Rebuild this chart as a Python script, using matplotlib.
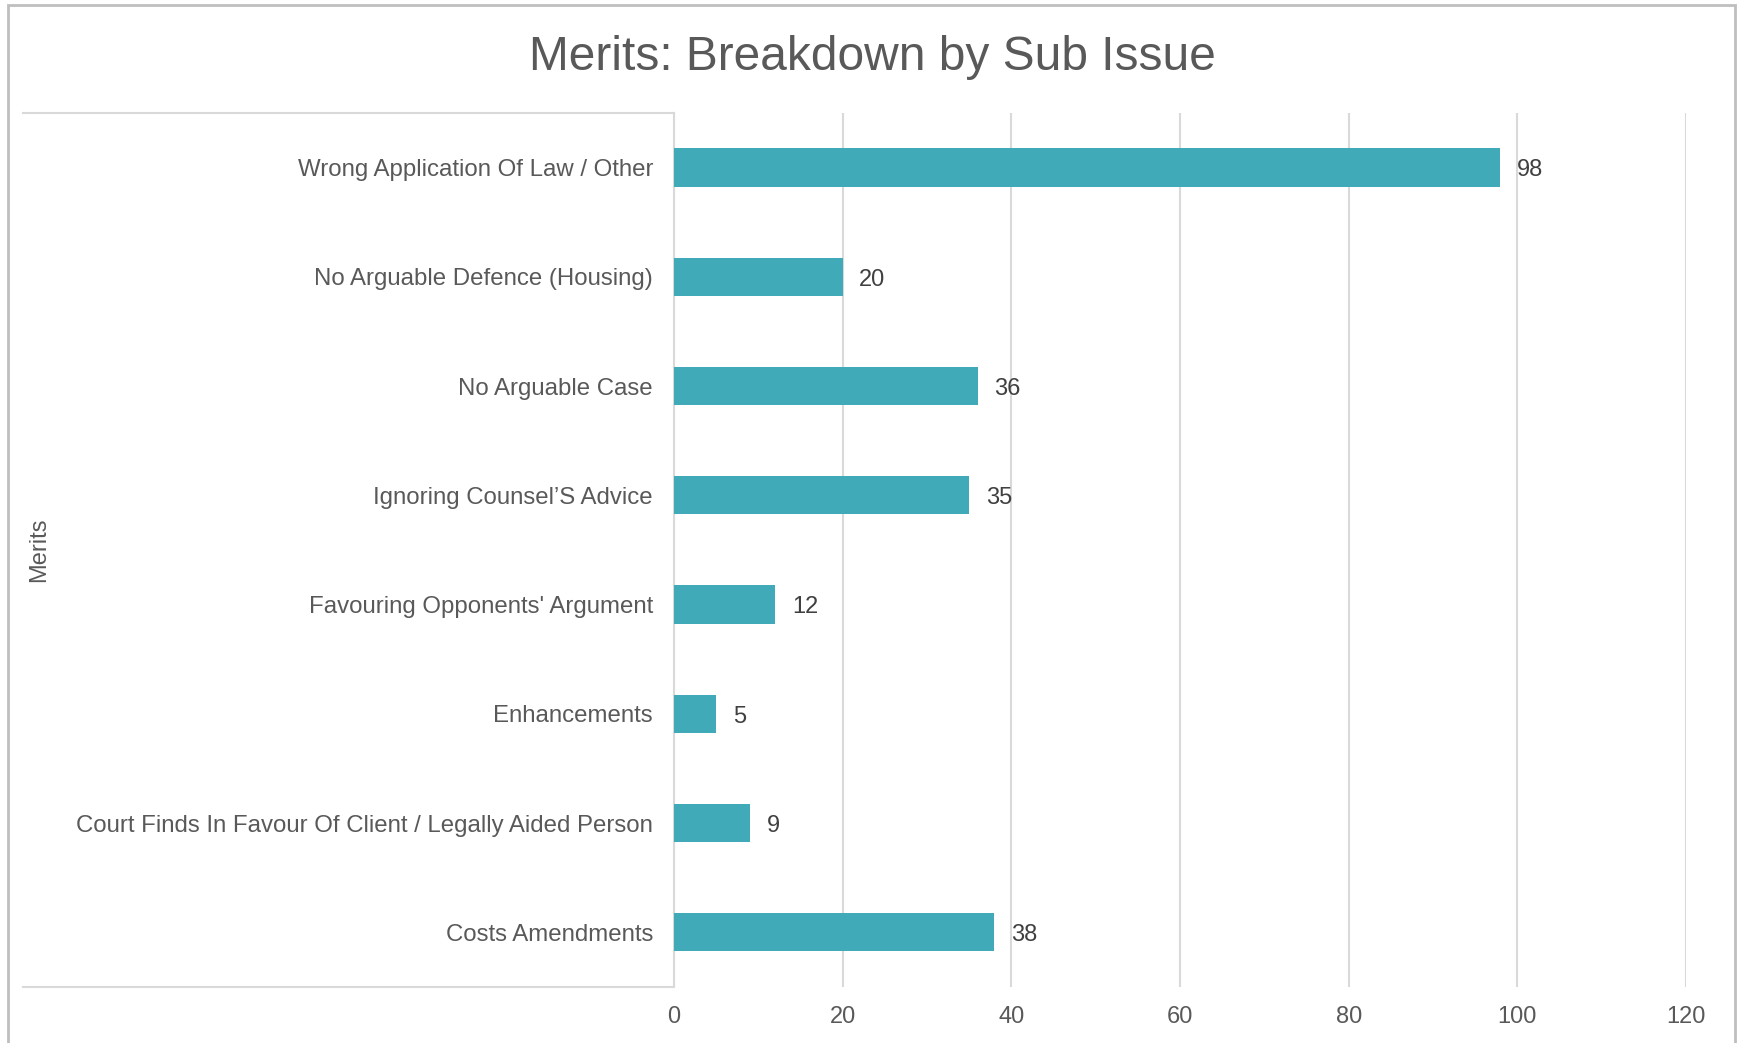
import matplotlib
matplotlib.use("Agg")
from matplotlib import pyplot as plt
from matplotlib.lines import Line2D
from matplotlib.patches import Rectangle

# sub issues, listed top to bottom
categories = [
    "Wrong Application Of Law / Other",
    "No Arguable Defence (Housing)",
    "No Arguable Case",
    "Ignoring Counsel\u2019S Advice",
    "Favouring Opponents' Argument",
    "Enhancements",
    "Court Finds In Favour Of Client / Legally Aided Person",
    "Costs Amendments",
]
counts = [98, 20, 36, 35, 12, 5, 9, 38]
x_ticks = [0, 20, 40, 60, 80, 100, 120]

BAR = "#40aab8"
GRID = "#d9d9d9"
TEXT = "#595959"

plt.rcParams["font.family"] = ["Liberation Sans", "DejaVu Sans"]

fig = plt.figure(figsize=(17.41, 10.43), dpi=100)
ax = fig.add_axes([0.3871, 0.0537, 0.5813, 0.838])

ypos = list(range(len(categories)))
ax.barh(ypos, counts, height=0.35, color=BAR, zorder=3)
for y, v in zip(ypos, counts):
    ax.annotate(str(v), (v, y), xytext=(12, -2), textcoords="offset points",
                va="center", ha="left", fontsize=17, color="#404040")

ax.set_ylim(len(categories) - 0.5, -0.5)
ax.set_xlim(0, 120)
ax.set_yticks(ypos)
ax.set_yticklabels(categories, fontsize=17.3, color=TEXT)
ax.set_xticks(x_ticks)
ax.set_xticklabels([str(t) for t in x_ticks], fontsize=17, color=TEXT)
ax.tick_params(axis="both", length=0)
ax.tick_params(axis="y", pad=15)
ax.tick_params(axis="x", pad=14)
ax.grid(axis="x", color=GRID, linewidth=1.5, zorder=0)

for side in ["top", "right", "bottom"]:
    ax.spines[side].set_visible(False)
ax.spines["left"].set_color(GRID)
ax.spines["left"].set_linewidth(1.5)

ax.set_ylabel("Merits", fontsize=17, color=TEXT)
ax.yaxis.set_label_coords((50 - 674) / 1012, 0.5)

# category area frame lines
x0 = 23 / 1741
x1 = 674 / 1741
for yy in (0.8917, 0.0537):
    fig.add_artist(Line2D([x0, x1], [yy, yy], transform=fig.transFigure,
                          color=GRID, linewidth=1.5))

# chart border
fig.add_artist(Rectangle((8 / 1741, -0.1), (1735 - 8) / 1741, 1.1 - 5 / 1043,
                         transform=fig.transFigure, fill=False,
                         edgecolor="#bfbfbf", linewidth=2))

fig.text(872 / 1741, 1 - 58 / 1043, "Merits: Breakdown by Sub Issue",
         ha="center", va="center", fontsize=34.5, color=TEXT)

fig.savefig("out.png", dpi=100)
